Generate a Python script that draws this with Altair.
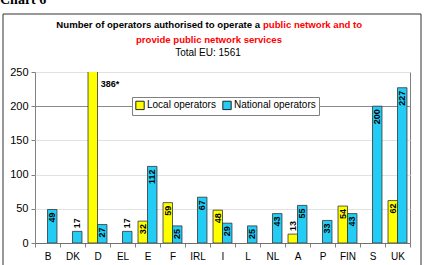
import altair as alt
import pandas as pd

# Operators per member state
countries = ["B", "DK", "D", "EL", "E", "F", "IRL", "I", "L", "NL", "A", "P", "FIN", "S", "UK"]
local_ops = [None, None, 386, None, 32, 59, None, 48, None, None, 13, None, 54, None, 62]
national_ops = [49, 17, 27, 17, 112, 25, 67, 29, 25, 43, 55, 33, 43, 200, 227]
series = ["Local operators", "National operators"]
y_ticks = [0, 50, 100, 150, 200, 250]

rows = []
for c, lv, nv in zip(countries, local_ops, national_ops):
    if lv is not None:
        rows.append({"country": c, "type": series[0], "value": lv})
    if nv is not None:
        rows.append({"country": c, "type": series[1], "value": nv})
df = pd.DataFrame(rows)

FONT = "Liberation Sans"
W, H = 375, 171

x_enc = alt.X("country:N", sort=countries, title=None,
              scale=alt.Scale(paddingInner=0, paddingOuter=0),
              axis=alt.Axis(tickBand="extent", labelAngle=0, labelFontSize=10,
                            labelColor="black", labelFont=FONT, tickSize=4,
                            tickColor="#808080", domainColor="#707070",
                            labelPadding=4, grid=False))
xoff_enc = alt.XOffset("type:N", sort=series,
                       scale=alt.Scale(domain=series, paddingOuter=0.32, paddingInner=0))
y_enc = alt.Y("value:Q", title=None,
              scale=alt.Scale(domain=[0, 250], nice=False),
              axis=alt.Axis(values=y_ticks, labelFontSize=11, labelColor="black",
                            labelFont=FONT, tickSize=4, tickColor="#808080",
                            domain=False, labelPadding=3, labelOverlap=False,
                            gridColor={"condition": {"test": "datum.value === 200",
                                                     "value": "#8a8a8a"},
                                       "value": "#e2e2e2"}))
color_enc = alt.Color("type:N", sort=series,
                      scale=alt.Scale(domain=series, range=["#FFFF00", "#22CCF5"]),
                      legend=alt.Legend(title=None, orient="none", legendX=97, legendY=25,
                                        direction="horizontal", symbolType="square",
                                        symbolSize=70, symbolStrokeColor="#222222",
                                        symbolStrokeWidth=1, labelFontSize=10,
                                        labelFont=FONT, labelColor="black",
                                        strokeColor="#808080", fillColor="white",
                                        padding=3, columnPadding=4, labelOffset=2,
                                        symbolOpacity=1))

base = alt.Chart(df)

bars = base.mark_bar(stroke="#333333", strokeWidth=0.8, clip=True).encode(
    x=x_enc, xOffset=xoff_enc, y=y_enc, color=color_enc)

# rotated labels: dx runs along the text direction (upwards on screen)
label_common = dict(angle=270, baseline="middle", fontSize=9, fontWeight="bold",
                    font=FONT, color="black")

inside = base.transform_filter(
    "datum.value >= 20 && datum.value <= 250"
).mark_text(align="right", dx=-3, **label_common).encode(
    x=x_enc, xOffset=xoff_enc, y=y_enc, text="value:Q")

above = base.transform_filter("datum.value < 20").mark_text(
    align="left", dx=3, **label_common).encode(
    x=x_enc, xOffset=xoff_enc, y=y_enc, text="value:Q")

# value beyond the axis range, written beside the clipped bar at the top
over = base.transform_filter("datum.value > 250").transform_calculate(
    lab="datum.value + '*'"
).transform_calculate(value="250").mark_text(
    align="left", baseline="middle", dx=8, dy=12, fontSize=9,
    fontWeight="bold", font=FONT, color="black").encode(
    x=x_enc, xOffset=xoff_enc, y=y_enc, text="lab:N")

one = alt.Chart(pd.DataFrame({"k": [0]}))

frame = one.mark_rect(fill=None, stroke="#333333", strokeWidth=1).encode(
    x=alt.value(-32), x2=alt.value(386), y=alt.value(-58), y2=alt.value(H + 40))

caption = one.mark_text(text="Chart 6", align="left", baseline="alphabetic",
                        font="Liberation Serif", fontSize=14, fontWeight="bold",
                        color="black").encode(x=alt.value(-35), y=alt.value(-68))

t1a = one.mark_text(text="Number of operators authorised to operate a", align="right",
                    baseline="middle", font=FONT, fontSize=9.6, fontWeight="bold",
                    color="black").encode(x=alt.value(225), y=alt.value(-47))
t1b = one.mark_text(text="public network and to", align="left",
                    baseline="middle", font=FONT, fontSize=9.6, fontWeight="bold",
                    color="#FF0000").encode(x=alt.value(228), y=alt.value(-47))
t2 = one.mark_text(text="provide public network services", align="center",
                   baseline="middle", font=FONT, fontSize=9.6, fontWeight="bold",
                   color="#FF0000").encode(x=alt.value(174), y=alt.value(-32))
t3 = one.mark_text(text="Total EU: 1561", align="center",
                   baseline="middle", font=FONT, fontSize=10,
                   color="black").encode(x=alt.value(173), y=alt.value(-19))

chart = alt.layer(frame, caption, t1a, t1b, t2, t3, bars, inside, above, over).properties(
    width=W, height=H,
    padding={"left": 35, "top": 72, "right": 14, "bottom": 22},
    autosize="none",
    background="white",
).configure_view(stroke="#808080", strokeWidth=1)

chart.save("out.html", embed_options={"renderer": "svg", "actions": False})
